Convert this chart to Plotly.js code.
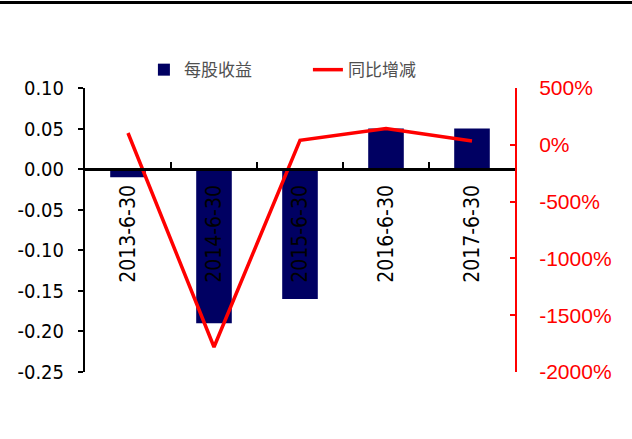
<!DOCTYPE html>
<html>
<head>
<meta charset="utf-8">
<script src="https://cdn.plot.ly/plotly-3.0.1.min.js"></script>
<style>
html,body{margin:0;padding:0;background:#fff;}
#chart{width:632px;height:439px;}
</style>
</head>
<body>
<div id="chart"></div>
<script>
// Data
const categories = ["2013-6-30", "2014-6-30", "2015-6-30", "2016-6-30", "2017-6-30"];
const eps = [-0.01, -0.19, -0.16, 0.05, 0.05];           // 每股收益
const yoyPct = [104, -1780, 40, 143, 33];                 // 同比增减 (%)
const seriesNames = ["每股收益", "同比增减"];

// Tick labels
const leftTickVals = [0.10, 0.05, 0.00, -0.05, -0.10, -0.15, -0.20, -0.25];
const leftTickText = ["0.10", "0.05", "0.00", "-0.05", "-0.10", "-0.15", "-0.20", "-0.25"];
const rightTickVals = [500, 0, -500, -1000, -1500, -2000];
const rightTickText = ["500%", "0%", "-500%", "-1000%", "-1500%", "-2000%"];

const yMin = -0.25, yMax = 0.10;
const zeroFrac = (0 - yMin) / (yMax - yMin);

const traces = [
  {
    type: "bar",
    name: seriesNames[0],
    x: categories,
    y: eps,
    marker: {color: "#000062", line: {width: 0}},
    yaxis: "y",
    xaxis: "x"
  },
  {
    type: "scatter",
    mode: "lines",
    name: seriesNames[1],
    x: categories,
    y: yoyPct,
    line: {color: "#ff0000", width: 3.5},
    yaxis: "y2",
    xaxis: "x"
  }
];

const layout = {
  width: 632,
  height: 439,
  margin: {l: 85, r: 117, t: 88, b: 67},
  paper_bgcolor: "#ffffff",
  plot_bgcolor: "rgba(0,0,0,0)",
  bargap: 0.586,
  showlegend: true,
  legend: {
    orientation: "h",
    x: 0.137, xanchor: "left",
    y: 1.063, yanchor: "middle",
    font: {family: "Noto Sans CJK SC", size: 17, color: "#505050"},
    entrywidth: 119, entrywidthmode: "pixels",
    bgcolor: "rgba(0,0,0,0)"
  },
  xaxis: {
    type: "category",
    anchor: "free",
    position: zeroFrac,
    showline: true,
    linecolor: "#000000",
    linewidth: 2.5,
    showgrid: false,
    zeroline: false,
    ticks: "inside",
    ticklen: 6,
    tickwidth: 2,
    tickcolor: "#000000",
    tickson: "boundaries",
    tickangle: -90,
    ticklabelstandoff: 6,
    tickfont: {family: "DejaVu Sans Condensed, DejaVu Sans", size: 21, color: "#000000"}
  },
  yaxis: {
    range: [yMin, yMax],
    tickmode: "array",
    tickvals: leftTickVals,
    ticktext: leftTickText,
    showline: true,
    linecolor: "#000000",
    linewidth: 2,
    showgrid: false,
    zeroline: false,
    ticks: "outside",
    ticklen: 5,
    tickwidth: 2,
    tickcolor: "#000000",
    ticklabelstandoff: 10,
    tickfont: {family: "DejaVu Sans Condensed, DejaVu Sans", size: 20, color: "#000000"}
  },
  yaxis2: {
    overlaying: "y",
    side: "right",
    range: [-2000, 500],
    tickmode: "array",
    tickvals: rightTickVals,
    ticktext: rightTickText,
    showline: true,
    linecolor: "#ff0000",
    linewidth: 2,
    showgrid: false,
    zeroline: false,
    ticks: "inside",
    ticklen: 5,
    tickwidth: 2,
    tickcolor: "#ff0000",
    ticklabelstandoff: 18,
    tickfont: {family: "Liberation Sans, Arial", size: 21, color: "#ff0000"}
  },
  shapes: [
    {type: "line", xref: "paper", yref: "paper", x0: -0.2, x1: 1.28, y0: 1.301, y1: 1.301,
     line: {color: "#000000", width: 3}}
  ]
};

Plotly.newPlot("chart", traces, layout, {displayModeBar: false, staticPlot: true});
</script>
</body>
</html>
